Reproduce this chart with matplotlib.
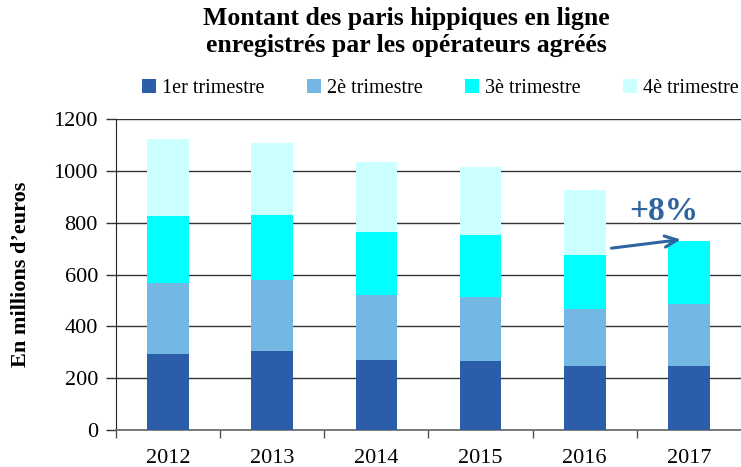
import matplotlib
matplotlib.use("Agg")
import matplotlib.pyplot as plt
import numpy as np

years = ["2012", "2013", "2014", "2015", "2016", "2017"]
q1 = [293, 304, 269, 265, 248, 248]
q2 = [274, 275, 253, 249, 219, 237]
q3 = [260, 252, 242, 239, 210, 245]
q4 = [298, 279, 271, 263, 250, 0]
series_names = ["1er trimestre", "2è trimestre", "3è trimestre", "4è trimestre"]
colors = ["#2B5DA8", "#73B8E3", "#00FFFF", "#CCFFFF"]
yticks = [0, 200, 400, 600, 800, 1000, 1200]

plt.rcParams['font.family'] = ['Liberation Serif', 'DejaVu Serif']

fig = plt.figure(figsize=(7.41, 4.67), dpi=100)
ax = fig.add_axes([0.1565, 0.0792, 0.8435, 0.6653])

x = np.arange(len(years))
bottom = np.zeros(len(years))
handles = []
for vals, name, c in zip([q1, q2, q3, q4], series_names, colors):
    v = np.array(vals, dtype=float)
    h = ax.bar(x, v, width=0.4, bottom=bottom, color=c, label=name, zorder=3)
    handles.append(h)
    bottom += v

ax.set_xlim(-0.5, 5.5)
ax.set_ylim(0, 1200)
ax.set_yticks(yticks)
ax.set_yticklabels([str(t) for t in yticks], fontsize=16)
ax.set_xticks(x)
ax.set_xticklabels(years, fontsize=16)
ax.set_xticks(np.arange(-0.5, 5.0, 1.0), minor=True)
ax.tick_params(axis='x', which='major', length=0, pad=14)
ax.tick_params(axis='x', which='minor', length=6, width=1, color='#555555', direction='out')
ax.tick_params(axis='y', length=7, width=1, color='#333333', pad=6)
ax.yaxis.grid(True, color='#333333', linewidth=1, zorder=0)
ax.set_axisbelow(True)
for s in ['top', 'right']:
    ax.spines[s].set_visible(False)
ax.spines['left'].set_color('#222222')
ax.spines['bottom'].set_color('#666666')
ax.spines['bottom'].set_linewidth(1.2)

ax.set_ylabel("En millions d\u2019euros", fontsize=16, fontweight='bold', labelpad=16)

fig.text(0.548, 0.985, "Montant des paris hippiques en ligne\nenregistrés par les opérateurs agréés",
         ha='center', va='top', fontsize=18.5, fontweight='bold', linespacing=1.2)

fig.legend(handles=handles, labels=series_names, loc='center', bbox_to_anchor=(0.594, 0.81),
           ncol=4, frameon=False, fontsize=14.5, handlelength=0.7, handleheight=0.7,
           handletextpad=0.3, columnspacing=2.1)

ax.annotate("", xy=(4.95, 737), xytext=(4.23, 701),
            arrowprops=dict(arrowstyle='->,head_length=0.9,head_width=0.4', color='#2E64A0', lw=2.2),
            zorder=5)
ax.text(4.76, 843, "+8%", ha='center', va='center', fontsize=24, fontweight='bold', color='#2E64A0')

fig.savefig("out.png", dpi=100)
